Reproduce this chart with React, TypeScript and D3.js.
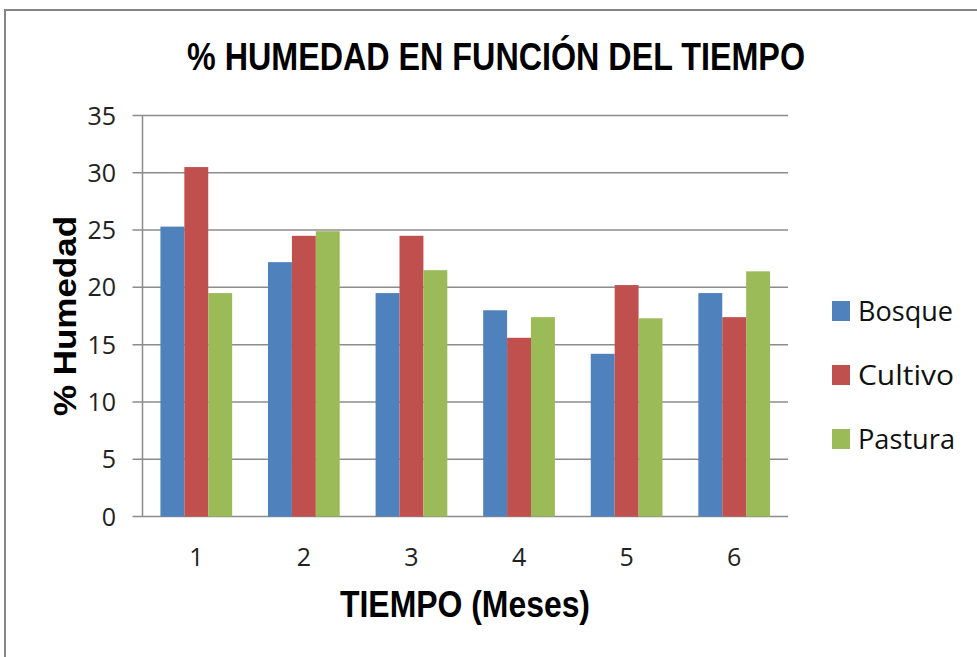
import React from "react";
import * as d3 from "d3";

const months = ["1", "2", "3", "4", "5", "6"];
const seriesNames = ["Bosque", "Cultivo", "Pastura"];
const bosque = [25.3, 22.2, 19.5, 18.0, 14.2, 19.5];
const cultivo = [30.5, 24.5, 24.5, 15.6, 20.2, 17.4];
const pastura = [19.5, 24.9, 21.5, 17.4, 17.3, 21.4];
const colors = ["#4F81BD", "#C0504D", "#9BBB59"];
const yTicks = [0, 5, 10, 15, 20, 25, 30, 35];

export default function App() {
  const W = 977, H = 657;
  const left = 142.5, right = 788, top = 115.5, bottom = 516.5;
  const values = [bosque, cultivo, pastura];
  const x0 = d3.scaleBand<string>().domain(months).range([left, right]).paddingInner(0).paddingOuter(0);
  const bw = x0.bandwidth() / 4.5;
  const x1 = d3.scaleBand<string>().domain(seriesNames).range([0, bw * 3]);
  const y = d3.scaleLinear().domain([0, 35]).range([bottom, top]);
  const grid = "#8c8c8c";
  const legendWidths = [95, 96, 97];

  return (
    <svg width={W} height={H} style={{ position: "absolute", left: 0, top: 0, background: "#fff" }}>
      <rect x={0} y={0} width={W} height={H} fill="#fff" />
      <rect x={5} y={10} width={1100} height={800} fill="none" stroke="#858585" strokeWidth={2} />
      <text x={496} y={70} textAnchor="middle" fontFamily="Liberation Sans, Arial, sans-serif" fontWeight="bold" fontSize={38} textLength={618} lengthAdjust="spacingAndGlyphs" fill="#000">
        % HUMEDAD EN FUNCIÓN DEL TIEMPO
      </text>
      {yTicks.map((t) => (
        <g key={t}>
          <line x1={left - 10} x2={right} y1={y(t)} y2={y(t)} stroke={grid} strokeWidth={1.5} />
          <text x={116} y={y(t) + 9} textAnchor="end" fontFamily="Open Sans, sans-serif" fontSize={25} fill="#222">
            {t}
          </text>
        </g>
      ))}
      <line x1={left} x2={left} y1={top} y2={bottom} stroke={grid} strokeWidth={1.5} />
      {months.map((m, i) => (
        <g key={m}>
          {seriesNames.map((s, j) => {
            const bx = (x0(m) as number) + bw * 0.75 + (x1(s) as number);
            return (
              <rect key={s} x={bx} y={y(values[j][i])} width={x1.bandwidth()} height={bottom - y(values[j][i])} fill={colors[j]} />
            );
          })}
          <text x={(x0(m) as number) + x0.bandwidth() / 2} y={566} textAnchor="middle" fontFamily="Open Sans, sans-serif" fontSize={25} fill="#222">
            {m}
          </text>
        </g>
      ))}
      <text transform={`translate(76,${(top + bottom) / 2}) rotate(-90)`} textAnchor="middle" fontFamily="Liberation Sans, Arial, sans-serif" fontWeight="bold" fontSize={32} textLength={200} lengthAdjust="spacingAndGlyphs" fill="#000">
        % Humedad
      </text>
      <text x={465} y={617} textAnchor="middle" fontFamily="Liberation Sans, Arial, sans-serif" fontWeight="bold" fontSize={36} textLength={250} lengthAdjust="spacingAndGlyphs" fill="#000">
        TIEMPO (Meses)
      </text>
      {seriesNames.map((s, j) => {
        const cy = 311 + j * 64;
        return (
          <g key={s}>
            <rect x={832} y={cy - 10} width={18} height={20} fill={colors[j]} />
            <text x={858} y={cy + 10} fontFamily="Open Sans, sans-serif" fontSize={27} textLength={legendWidths[j]} lengthAdjust="spacingAndGlyphs" fill="#111">
              {s}
            </text>
          </g>
        );
      })}
    </svg>
  );
}
